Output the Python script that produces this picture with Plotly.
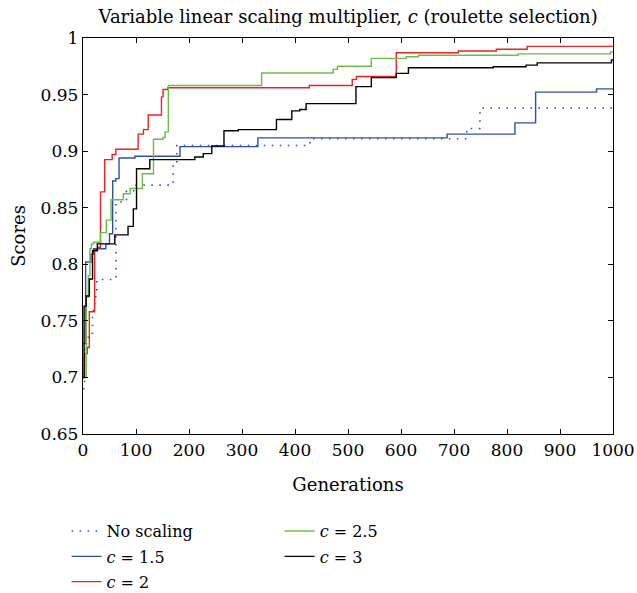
import plotly.graph_objects as go

# ---- data ----
gen_none = [0, 3, 10, 18, 20, 22, 24, 26, 62, 82, 98, 170, 177, 428, 724, 749, 1000]
sc_none = [0.69, 0.73, 0.739, 0.753, 0.761, 0.768, 0.775, 0.7865, 0.855, 0.865, 0.870,
           0.889, 0.905, 0.911, 0.920, 0.938, 0.938]

gen_c15 = [0, 5, 15, 20, 43, 50, 56, 62, 68, 98, 183, 330, 687, 815, 854, 969, 1000]
sc_c15 = [0.73, 0.802, 0.809, 0.8137, 0.818, 0.827, 0.8736, 0.8757, 0.894, 0.8955,
          0.904, 0.9117, 0.915, 0.925, 0.9522, 0.955, 0.955]

gen_c2 = [0, 3, 8, 12, 22, 28, 33, 41, 55, 62, 104, 114, 123, 148, 151, 160,
          427, 508, 516, 591, 708, 780, 838, 1000]
sc_c2 = [0.70, 0.721, 0.7265, 0.758, 0.813, 0.815, 0.864, 0.8925, 0.897, 0.9017,
         0.915, 0.919, 0.932, 0.948, 0.9545, 0.956, 0.958, 0.9634, 0.966, 0.987,
         0.9885, 0.990, 0.9926, 0.9926]

gen_c25 = [0, 6, 10, 13, 16, 20, 33, 44, 53, 76, 89, 112, 133, 151, 155, 161,
           337, 472, 480, 544, 610, 633, 821, 995, 1000]
sc_c25 = [0.70, 0.771, 0.790, 0.8137, 0.818, 0.8195, 0.828, 0.839, 0.857, 0.8624,
          0.867, 0.880, 0.9105, 0.912, 0.917, 0.958, 0.969, 0.9723, 0.975, 0.982,
          0.9834, 0.9847, 0.986, 0.9876, 0.9876]

gen_c3 = [0, 2, 6, 12, 18, 27, 60, 85, 95, 101, 126, 211, 227, 243, 266, 293, 365,
          394, 409, 421, 515, 544, 591, 614, 774, 836, 857, 997, 1000]
sc_c3 = [0.70, 0.763, 0.772, 0.787, 0.812, 0.818, 0.826, 0.8335, 0.849, 0.8845,
         0.8925, 0.8948, 0.8978, 0.9046, 0.918, 0.919, 0.928, 0.9356, 0.9368, 0.942,
         0.957, 0.965, 0.9687, 0.9737, 0.9746, 0.976, 0.978, 0.9805, 0.9805]

x_ticks = [0, 100, 200, 300, 400, 500, 600, 700, 800, 900, 1000]
x_labels = ["0", "100", "200", "300", "400", "500", "600", "700", "800", "900", "1000"]
y_ticks = [0.65, 0.7, 0.75, 0.8, 0.85, 0.9, 0.95, 1.0]
y_labels = ["0.65", "0.7", "0.75", "0.8", "0.85", "0.9", "0.95", "1"]

BLUE = "#2E50A6"
RED = "#EC2227"
GREEN = "#6CBD45"
BLACK = "#000000"
FONT = "DejaVu Serif"

fig = go.Figure()
series = [
    ("No scaling", gen_none, sc_none, BLUE, "1.5px,6.5px", 1.6, "legend"),
    ("<i>c</i> = 1.5", gen_c15, sc_c15, BLUE, "solid", 1.4, "legend"),
    ("<i>c</i> = 2", gen_c2, sc_c2, RED, "solid", 1.4, "legend"),
    ("<i>c</i> = 2.5", gen_c25, sc_c25, GREEN, "solid", 1.4, "legend2"),
    ("<i>c</i> = 3", gen_c3, sc_c3, BLACK, "solid", 1.4, "legend2"),
]
for i, (name, gx, gy, col, dash, w, leg) in enumerate(series):
    fig.add_trace(go.Scatter(
        x=gx, y=gy, mode="lines", name=name, line_shape="hv",
        line=dict(color=col, width=w, dash=dash), legend=leg,
        legendgroup=f"g{i}",
    ))

axis_common = dict(
    showline=True, linecolor="black", linewidth=1.3, mirror="ticks",
    ticks="inside", ticklen=5, tickwidth=1.2, tickcolor="black",
    showgrid=False, zeroline=False,
    tickfont=dict(family=FONT, size=17, color="black"),
)

fig.update_layout(
    width=637, height=593,
    margin=dict(l=83, r=24, t=38, b=159, autoexpand=False),
    paper_bgcolor="white", plot_bgcolor="white",
    font=dict(family=FONT, size=17, color="black"),
    title=dict(text="Variable linear scaling multiplier, <i>c</i> (roulette selection)",
               x=0.5465, xanchor="center", y=0.972, yanchor="middle",
               font=dict(family=FONT, size=18, color="black")),
    xaxis=dict(range=[0, 1000], tickvals=x_ticks, ticktext=x_labels,
               title=dict(text="Generations", standoff=19,
                          font=dict(family=FONT, size=18)),
               **axis_common),
    yaxis=dict(range=[0.65, 1.0], tickvals=y_ticks, ticktext=y_labels,
               title=dict(text="Scores", standoff=10,
                          font=dict(family=FONT, size=18)),
               **axis_common),
    legend=dict(x=-0.031, xanchor="left", y=0.133, yref="container", yanchor="top",
                orientation="v", bgcolor="rgba(0,0,0,0)", traceorder="grouped",
                font=dict(family=FONT, size=16), tracegroupgap=1.5),
    legend2=dict(x=0.371, xanchor="left", y=0.133, yref="container", yanchor="top",
                 orientation="v", bgcolor="rgba(0,0,0,0)", traceorder="grouped",
                 font=dict(family=FONT, size=16), tracegroupgap=1.5),
    showlegend=True,
)

fig.write_html("out.html")
